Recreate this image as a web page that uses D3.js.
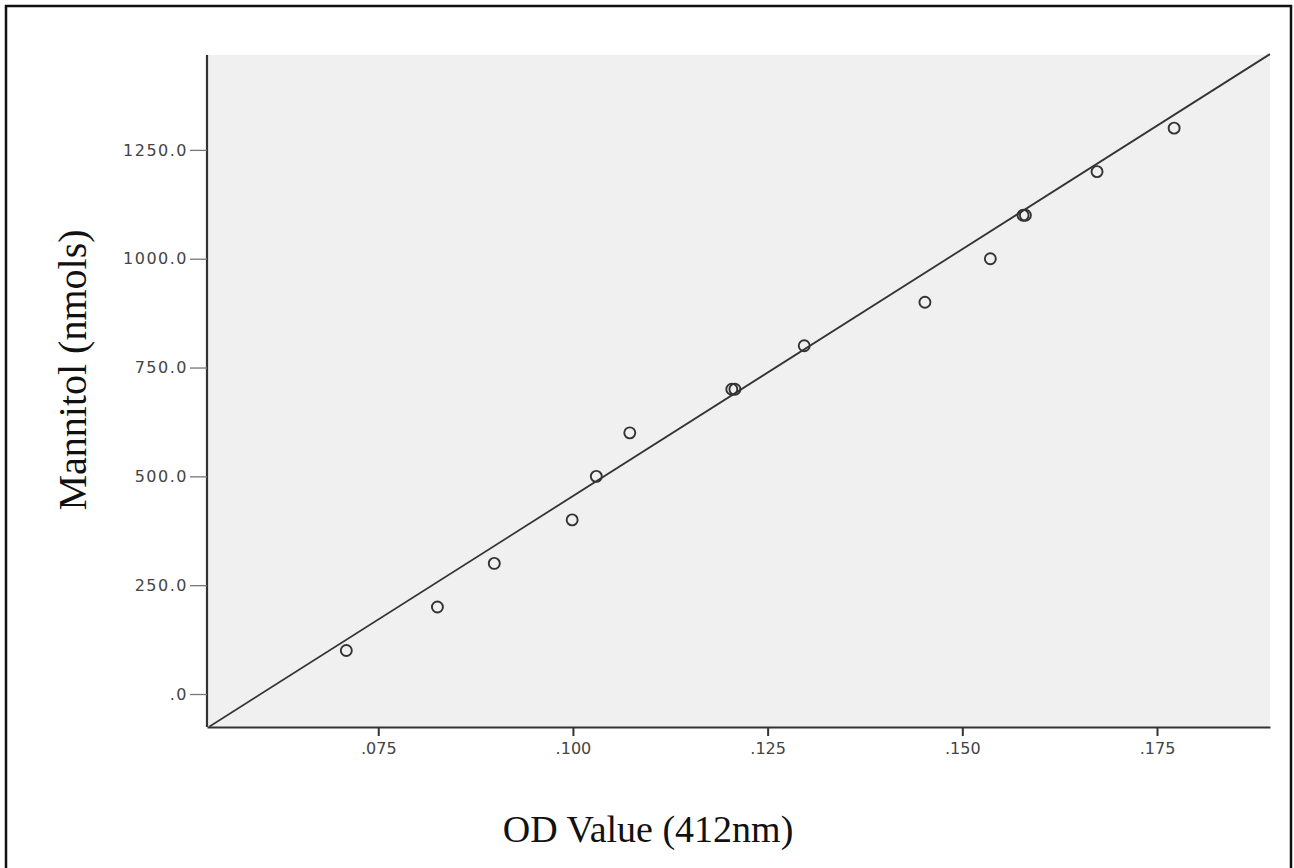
<!DOCTYPE html>
<html>
<head>
<meta charset="utf-8">
<script src="https://cdn.jsdelivr.net/npm/d3@7"></script>
<style>
  html, body { margin: 0; padding: 0; background: #fff; }
  svg { display: block; }
</style>
</head>
<body>
<script>
// ---- data ----
const odValues = [0.0709, 0.0826, 0.0899, 0.0999, 0.1030, 0.1073, 0.1204, 0.1208, 0.1297, 0.1452, 0.1536, 0.1578, 0.1581, 0.1673, 0.1772];
const mannitol = [100, 200, 300, 400, 500, 600, 700, 700, 800, 900, 1000, 1100, 1100, 1200, 1300];
const fitX = [0.0533, 0.1895];
const fitY = [-75, 1470];
const xTickValues = [0.075, 0.100, 0.125, 0.150, 0.175];
const xTickLabels = [".075", ".100", ".125", ".150", ".175"];
const yTickValues = [0, 250, 500, 750, 1000, 1250];
const yTickLabels = [".0", "250.0", "500.0", "750.0", "1000.0", "1250.0"];
const xTitle = "OD Value (412nm)";
const yTitle = "Mannitol (nmols)";

// ---- layout ----
const W = 1294, H = 868;
const plot = { left: 207, right: 1270, top: 55, bottom: 727 };

const svg = d3.select("body").append("svg").attr("width", W).attr("height", H);

// outer frame
svg.append("rect").attr("x", 6).attr("y", 6).attr("width", 1285).attr("height", H + 10)
  .attr("fill", "none").attr("stroke", "#111").attr("stroke-width", 2.5);

const x = d3.scaleLinear().domain([0.05301, 0.18951]).range([plot.left, plot.right]);
const y = d3.scaleLinear().domain([-75.8, 1468]).range([plot.bottom, plot.top]);

// plot background
svg.append("rect").attr("x", plot.left).attr("y", plot.top)
  .attr("width", plot.right - plot.left).attr("height", plot.bottom - plot.top)
  .attr("fill", "#f0f0f0");

svg.append("clipPath").attr("id", "clip").append("rect")
  .attr("x", plot.left).attr("y", plot.top - 3)
  .attr("width", plot.right - plot.left + 2).attr("height", plot.bottom - plot.top + 3);

// fit line
const line = d3.line().x(d => x(d[0])).y(d => y(d[1]));
svg.append("path").datum(d3.zip(fitX, fitY))
  .attr("d", line).attr("fill", "none").attr("stroke", "#333").attr("stroke-width", 1.8)
  .attr("clip-path", "url(#clip)");

// points
svg.append("g").selectAll("circle").data(d3.zip(odValues, mannitol)).join("circle")
  .attr("cx", d => x(d[0])).attr("cy", d => y(d[1])).attr("r", 5.5)
  .attr("fill", "none").attr("stroke", "#333").attr("stroke-width", 1.9);

// axes
const xAxis = d3.axisBottom(x).tickValues(xTickValues)
  .tickFormat((d, i) => xTickLabels[i]).tickSize(9).tickPadding(7).tickSizeOuter(0);
const gx = svg.append("g").attr("transform", `translate(0,${plot.bottom})`).call(xAxis);
gx.select(".domain").attr("stroke", "#333").attr("stroke-width", 2.2);
gx.selectAll(".tick line").attr("stroke", "#333").attr("stroke-width", 2);
gx.selectAll(".tick text").attr("font-family", "DejaVu Sans, sans-serif")
  .attr("font-size", 16).attr("fill", "#444");

const yAxis = d3.axisLeft(y).tickValues(yTickValues)
  .tickFormat((d, i) => yTickLabels[i]).tickSize(17).tickPadding(2).tickSizeOuter(0);
const gy = svg.append("g").attr("transform", `translate(${plot.left},0)`).call(yAxis);
gy.select(".domain").attr("stroke", "#333").attr("stroke-width", 2.2)
  .attr("d", `M0,${plot.top}V${plot.bottom}`);
gy.selectAll(".tick line").attr("stroke", "#777").attr("stroke-width", 1.3);
gy.selectAll(".tick text").attr("font-family", "DejaVu Sans, sans-serif")
  .attr("font-size", 16).attr("fill", "#444").attr("letter-spacing", 1.5);

// titles
svg.append("text").attr("x", 648).attr("y", 842).attr("text-anchor", "middle")
  .attr("font-family", "Liberation Serif, Times New Roman, serif").attr("font-size", 38)
  .attr("fill", "#111").text(xTitle);
svg.append("text").attr("transform", "translate(86,370) rotate(-90)").attr("text-anchor", "middle")
  .attr("font-family", "Liberation Serif, Times New Roman, serif").attr("font-size", 40)
  .attr("fill", "#111").text(yTitle);
</script>
</body>
</html>
